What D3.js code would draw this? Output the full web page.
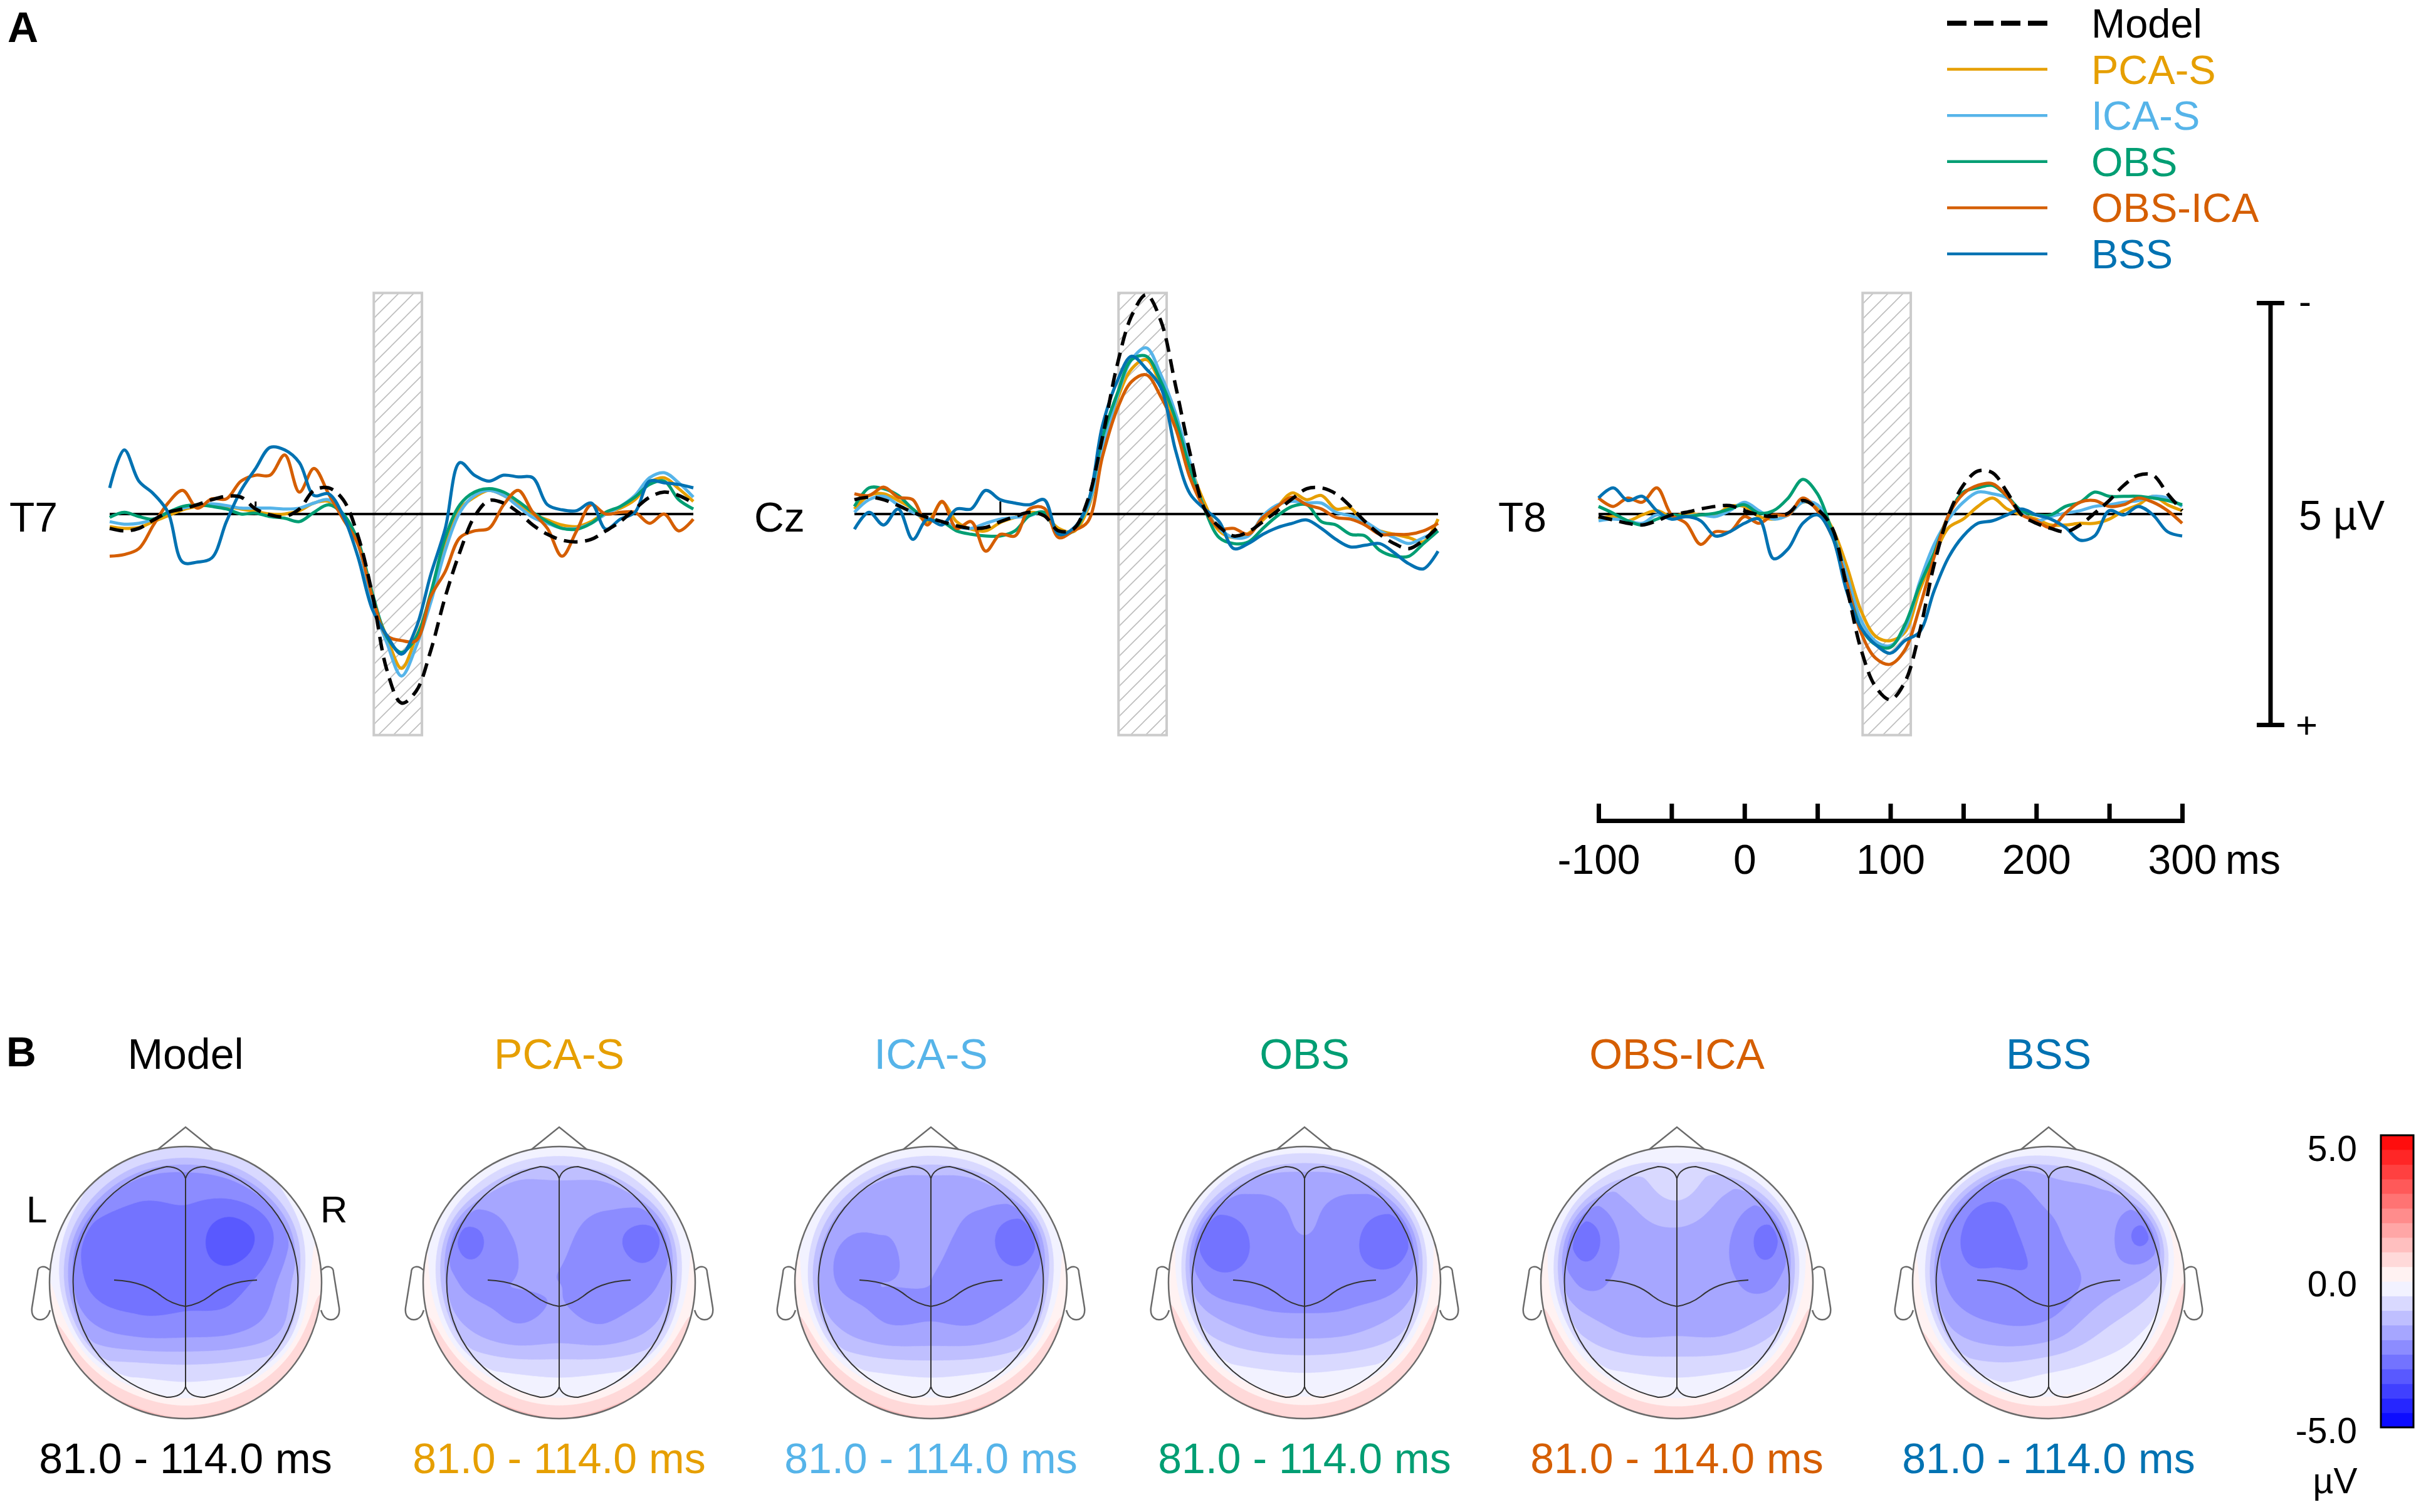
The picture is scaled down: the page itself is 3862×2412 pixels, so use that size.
<!DOCTYPE html>
<html><head><meta charset="utf-8">
<script src="https://cdn.jsdelivr.net/npm/d3@7"></script>
<style>
body{margin:0;background:#fff}
svg{display:block}
text{font-family:"Liberation Sans",Arial,Helvetica,sans-serif}
</style>
</head><body>
<svg id="chart" width="3862" height="2412"></svg>
<script>
// ---------------- DATA ----------------
const times = [-100,-90,-80,-70,-60,-50,-40,-30,-20,-10,0,10,20,30,40,50,60,70,80,90,100,110,120,130,140,150,160,170,180,190,200,210,220,230,240,250,260,270,280,290,300];
const seriesNames = ["Model","PCA-S","ICA-S","OBS","OBS-ICA","BSS"];
const seriesColors = ["#000000","#E69F00","#56B4E9","#009E73","#D55E00","#0072B2"];
const channels = ["T7","Cz","T8"];
const hatchWindow = [81,114];          // ms
const timeTicks = [-100,-50,0,50,100,150,200,250,300];
const timeLabels = [-100,0,100,200,300];
const topoLabel = "81.0 - 114.0 ms";
const colorbarLabels = ["5.0","0.0","-5.0"];

// ERP values (µV, negative up), 10 ms steps from -100 to 300 ms
const T7_model  = [0.17,0.20,0.17,0.07,-0.02,-0.06,-0.11,-0.17,-0.21,-0.20,-0.06,0.01,0.03,-0.06,-0.28,-0.31,-0.17,0.25,0.95,1.85,2.24,2.10,1.62,0.98,0.45,0.03,-0.16,-0.13,-0.02,0.13,0.24,0.31,0.33,0.30,0.20,0.09,-0.06,-0.20,-0.26,-0.22,-0.13];
const T7_pcaS   = [0.15,0.17,0.16,0.09,0.02,-0.05,-0.09,-0.11,-0.09,-0.06,-0.03,0,0,-0.04,-0.13,-0.15,0.02,0.35,1.02,1.46,1.83,1.46,1.02,0.35,-0.06,-0.20,-0.28,-0.22,-0.11,0,0.07,0.13,0.15,0.09,-0.02,-0.07,-0.17,-0.37,-0.43,-0.30,-0.15];
const T7_icaS   = [0.09,0.12,0.11,0.06,-0.02,-0.07,-0.10,-0.12,-0.10,-0.07,-0.07,-0.07,-0.06,-0.07,-0.13,-0.17,0,0.35,1.05,1.53,1.92,1.57,1.05,0.43,-0.02,-0.22,-0.28,-0.22,-0.09,0.04,0.11,0.17,0.17,0.11,0,-0.09,-0.22,-0.43,-0.49,-0.37,-0.20];
const T7_obs    = [0.04,-0.02,0.03,0.06,-0.02,-0.09,-0.11,-0.09,-0.06,0,-0.01,0.03,0.05,0.09,-0.02,-0.11,0,0.31,0.94,1.46,1.64,1.46,0.94,0.28,-0.11,-0.26,-0.30,-0.26,-0.15,-0.02,0.09,0.17,0.18,0.11,-0.02,-0.09,-0.20,-0.35,-0.39,-0.17,-0.06];
const T7_obsIca = [0.50,0.48,0.41,0.13,-0.13,-0.28,-0.07,-0.18,-0.18,-0.39,-0.46,-0.46,-0.70,-0.26,-0.54,-0.24,0.06,0.35,0.98,1.44,1.50,1.50,0.98,0.68,0.28,0.20,0.17,-0.11,-0.28,-0.02,0.17,0.50,0.20,-0.11,0,-0.02,-0.02,0.11,0,0.20,0.06];
const T7_bss    = [-0.31,-0.76,-0.39,-0.24,-0.02,0.57,0.57,0.52,0.09,-0.28,-0.54,-0.79,-0.76,-0.61,-0.22,-0.24,0.02,0.50,1.13,1.44,1.66,1.35,0.72,0.17,-0.61,-0.46,-0.39,-0.46,-0.44,-0.43,-0.11,-0.05,-0.04,-0.13,0.18,0.06,-0.02,-0.39,-0.37,-0.35,-0.31];

const Cz_model  = [-0.17,-0.20,-0.17,-0.10,-0.02,0.04,0.09,0.14,0.17,0.16,0.09,0.03,-0.02,0.02,0.20,0.18,-0.17,-0.91,-1.76,-2.35,-2.60,-2.29,-1.53,-0.72,-0.06,0.15,0.26,0.21,0.09,-0.04,-0.18,-0.30,-0.31,-0.24,-0.09,0.09,0.24,0.35,0.41,0.31,0.15];
const Cz_pcaS   = [-0.06,-0.22,-0.24,-0.16,-0.06,0.09,-0.14,0.09,0.18,0.20,0.10,0.04,-0.02,0.02,0.17,0.21,-0.06,-0.76,-1.35,-1.72,-1.83,-1.53,-1.09,-0.57,-0.13,0.20,0.28,0.23,0.07,-0.09,-0.25,-0.17,-0.22,-0.06,-0.07,0.13,0.20,0.24,0.28,0.33,0.06];
const Cz_icaS   = [-0.02,-0.17,-0.21,-0.11,-0.02,0.06,0.09,0.15,0.17,0.11,0.06,0.04,0.02,-0.02,0.24,0.18,-0.09,-0.76,-1.39,-1.83,-1.97,-1.65,-1.20,-0.61,-0.06,0.17,0.28,0.26,0.02,-0.11,-0.15,-0.13,-0.13,-0.02,0.02,0.09,0.20,0.28,0.35,0.28,0.20];
const Cz_obs    = [-0.09,-0.31,-0.30,-0.22,-0.06,0.06,0.09,0.20,0.24,0.26,0.26,0.20,0.02,-0.02,0.24,0.20,-0.13,-0.91,-1.42,-1.83,-1.87,-1.57,-1.13,-0.54,-0.06,0.28,0.35,0.33,0.17,0.02,-0.09,-0.11,0.09,0.13,0.24,0.26,0.43,0.50,0.50,0.35,0.20];
const Cz_obsIca = [-0.24,-0.22,-0.32,-0.20,-0.17,0.13,-0.15,0.17,0.09,0.44,0.24,0.26,-0.06,-0.07,0.28,0.20,0.09,-0.68,-1.24,-1.57,-1.65,-1.39,-1.02,-0.43,-0.06,0.17,0.17,0.24,0.04,-0.09,-0.20,-0.11,-0.06,0.04,0.06,0.13,0.24,0.24,0.24,0.20,0.11];
const Cz_bss    = [0.18,-0.02,0.13,-0.06,0.30,0.06,0.13,-0.06,-0.06,-0.28,-0.17,-0.13,-0.11,-0.17,0.24,0.17,-0.13,-1.05,-1.57,-1.87,-1.72,-1.50,-0.76,-0.24,-0.06,0.09,0.41,0.35,0.24,0.16,0.11,0.07,0.17,0.30,0.39,0.37,0.35,0.46,0.59,0.65,0.44];

const T8_model  = [0.03,0.07,0.11,0.13,0.08,0.01,-0.02,-0.06,-0.09,-0.10,-0.04,0.01,0.03,-0.01,-0.16,-0.06,0.16,0.86,1.61,2.05,2.20,1.99,1.40,0.60,0.01,-0.34,-0.51,-0.49,-0.26,0.01,0.11,0.17,0.21,0.13,-0.01,-0.16,-0.34,-0.46,-0.46,-0.24,-0.04];
const T8_pcaS   = [0.06,0.03,0.08,0.01,-0.04,0.03,-0.01,0.01,0.01,-0.09,-0.09,0.03,0.06,0.01,-0.14,-0.09,0.16,0.61,1.15,1.45,1.50,1.40,0.91,0.50,0.16,0.06,-0.09,-0.19,-0.06,0.01,0.06,0.13,0.13,0.11,0.11,0.06,-0.04,-0.11,-0.21,-0.11,-0.04];
const T8_icaS   = [0.08,0.06,0.08,0.11,0.01,0.06,0.03,0.01,0.03,-0.04,-0.14,-0.04,0.06,0.01,-0.14,-0.11,0.21,0.71,1.26,1.51,1.56,1.36,0.81,0.36,0.06,-0.14,-0.26,-0.24,-0.19,-0.01,0.08,0.03,-0.01,-0.04,-0.09,-0.11,-0.14,-0.16,-0.21,-0.19,-0.09];
const T8_obs    = [-0.09,-0.01,0.08,0.13,0.06,0.01,0.03,0.01,-0.01,-0.06,-0.11,-0.01,-0.04,-0.19,-0.41,-0.24,0.21,0.81,1.35,1.55,1.58,1.31,0.85,0.46,0.01,-0.26,-0.31,-0.34,-0.21,-0.04,0.01,0.01,-0.09,-0.14,-0.26,-0.21,-0.21,-0.21,-0.19,-0.16,-0.11];
const T8_obsIca = [-0.19,-0.09,-0.19,-0.14,-0.31,0.01,0.11,0.36,0.21,0.21,0.03,0.11,0.01,0.01,-0.19,-0.04,0.26,0.81,1.41,1.71,1.78,1.61,1.11,0.51,0.01,-0.24,-0.34,-0.36,-0.21,0.01,0.08,0.16,-0.01,-0.14,-0.16,-0.09,-0.11,-0.19,-0.14,-0.04,0.11];
const T8_bss    = [-0.19,-0.31,-0.16,-0.21,-0.04,0.06,0.03,0.08,0.26,0.21,0.11,0.06,0.53,0.41,0.11,0.01,0.26,0.91,1.35,1.55,1.65,1.50,1.40,0.91,0.51,0.26,0.11,0.08,0.01,-0.06,0.01,0.06,0.16,0.31,0.26,-0.04,0.01,-0.09,0.01,0.21,0.26];

// Topographic maps: 7x7 grid of scalp values (µV), rows front->back, columns left->right
const MAP_model = [
 [-0.8,-1.2,-1.4,-1.4,-1.4,-1.2,-0.6],
 [-1.2,-1.9,-2.3,-2.3,-2.2,-1.7,-0.8],
 [-1.6,-2.6,-2.8,-2.7,-3.3,-2.3,-0.6],
 [-1.2,-2.6,-2.8,-2.7,-2.7,-1.9, 0.0],
 [-0.5,-1.8,-2.2,-2.2,-2.1,-1.5, 0.0],
 [ 0.2,-0.4,-0.5,-0.6,-0.5,-0.3, 0.3],
 [ 0.5, 0.3, 0.2, 0.1, 0.2, 0.3, 0.6]];
const MAP_pcaS = [
 [-0.4,-0.7,-0.8,-0.8,-0.8,-0.7,-0.4],
 [-0.7,-1.3,-1.6,-1.6,-1.6,-1.3,-0.7],
 [-1.0,-2.6,-2.0,-1.9,-2.3,-2.6,-0.8],
 [-0.8,-2.1,-2.0,-2.0,-2.1,-2.1,-0.5],
 [-0.3,-1.4,-1.9,-1.8,-1.9,-1.4,-0.2],
 [ 0.2,-0.2,-0.4,-0.5,-0.4,-0.2, 0.2],
 [ 0.4, 0.2, 0.1, 0.1, 0.1, 0.2, 0.4]];
const MAP_icaS = [
 [-0.4,-0.7,-0.8,-0.8,-0.8,-0.7,-0.4],
 [-0.7,-1.4,-1.7,-1.7,-1.7,-1.4,-0.7],
 [-1.0,-1.9,-2.0,-1.9,-2.2,-2.8,-0.8],
 [-0.8,-2.0,-2.0,-2.0,-2.1,-2.1,-0.5],
 [-0.3,-1.4,-1.9,-1.9,-1.9,-1.4,-0.2],
 [ 0.2,-0.2,-0.4,-0.5,-0.4,-0.2, 0.2],
 [ 0.4, 0.2, 0.1, 0.1, 0.1, 0.2, 0.4]];
const MAP_obs = [
 [-0.5,-0.8,-0.9,-0.9,-0.9,-0.8,-0.5],
 [-0.9,-1.7,-1.9,-1.8,-1.9,-1.7,-0.9],
 [-1.2,-2.8,-2.4,-2.0,-2.4,-2.8,-0.9],
 [-0.7,-2.2,-2.3,-2.3,-2.3,-2.1,-0.5],
 [ 0.0,-1.1,-1.6,-1.7,-1.6,-1.1, 0.0],
 [ 0.3,-0.1,-0.3,-0.4,-0.3,-0.1, 0.3],
 [ 0.5, 0.3, 0.1, 0.1, 0.1, 0.3, 0.5]];
const MAP_obsIca = [
 [-0.4,-0.7,-0.6,-0.5,-0.6,-0.7,-0.4],
 [-0.8,-1.6,-1.3,-0.8,-1.4,-1.6,-0.8],
 [-1.2,-2.7,-1.8,-1.6,-1.9,-2.6,-0.9],
 [-0.8,-2.1,-1.8,-1.8,-1.9,-2.1,-0.5],
 [ 0.0,-1.1,-1.6,-1.6,-1.6,-1.1, 0.0],
 [ 0.3,-0.2,-0.4,-0.5,-0.4,-0.2, 0.3],
 [ 0.5, 0.3, 0.1, 0.1, 0.1, 0.3, 0.5]];
const MAP_bss = [
 [-0.4,-0.7,-0.9,-0.8,-0.6,-0.5,-0.3],
 [-1.0,-2.0,-2.3,-1.7,-1.5,-1.3,-0.6],
 [-1.1,-2.4,-2.6,-2.2,-1.6,-2.6,-0.7],
 [-0.8,-2.2,-2.4,-2.4,-1.8,-1.4,-0.2],
 [-0.2,-1.5,-1.9,-1.8,-1.1,-0.5, 0.3],
 [ 0.3,-0.4,-0.6,-0.4,-0.2, 0.0, 0.5],
 [ 0.5, 0.2, 0.1, 0.1, 0.2, 0.4, 0.7]];
// Values on the scalp rim, 12 points clockwise from the nose (30° apart)
const RIM_model  = [-0.6,-0.6,-0.3, 0.4, 0.9, 1.0, 1.0, 1.0, 0.8, 0.0,-0.4,-0.6];
const RIM_pcaS   = [-0.3,-0.3,-0.2, 0.2, 0.8, 1.0, 1.0, 1.0, 0.8, 0.2,-0.2,-0.3];
const RIM_icaS   = [-0.3,-0.3,-0.2, 0.2, 0.8, 1.0, 1.0, 1.0, 0.8, 0.2,-0.2,-0.3];
const RIM_obs    = [-0.4,-0.4,-0.2, 0.3, 0.9, 1.0, 1.0, 1.0, 0.9, 0.3,-0.2,-0.4];
const RIM_obsIca = [-0.3,-0.3,-0.2, 0.3, 0.8, 0.9, 0.9, 0.9, 0.8, 0.3,-0.2,-0.3];
const RIM_bss    = [-0.3,-0.1, 0.0, 0.5, 1.0, 1.0, 0.9, 0.8, 0.6, 0.2,-0.3,-0.4];

// ---------------- LAYOUT ----------------
const channelSeries = {
  T7:[T7_model,T7_pcaS,T7_icaS,T7_obs,T7_obsIca,T7_bss],
  Cz:[Cz_model,Cz_pcaS,Cz_icaS,Cz_obs,Cz_obsIca,Cz_bss],
  T8:[T8_model,T8_pcaS,T8_icaS,T8_obs,T8_obsIca,T8_bss]
};
const maps = [MAP_model,MAP_pcaS,MAP_icaS,MAP_obs,MAP_obsIca,MAP_bss];
const rims = [RIM_model,RIM_pcaS,RIM_icaS,RIM_obs,RIM_obsIca,RIM_bss];
const panelX = [175,1363,2550], panelW = 931;
const FONT = 66;

const svg = d3.select("#chart");
svg.append("rect").attr("width",3862).attr("height",2412).attr("fill","#fff");
const defs = svg.append("defs");
const pat = defs.append("pattern").attr("id","hatch").attr("patternUnits","userSpaceOnUse").attr("width",24).attr("height",24);
pat.append("rect").attr("width",24).attr("height",24).attr("fill","#fff");
pat.append("path").attr("d","M-6,6 L6,-6 M0,24 L24,0 M18,30 L30,18").attr("stroke","#bdbdbd").attr("stroke-width",1.6);

const yS = d3.scaleLinear().domain([-2.5,2.5]).range([483.5,1156.5]);

// Panel labels
svg.append("text").attr("x",12).attr("y",67).attr("font-size",68).attr("font-weight","bold").text("A");
svg.append("text").attr("x",10).attr("y",1701).attr("font-size",66).attr("font-weight","bold").text("B");

// ERP panels
const drawOrder = [1,2,3,4,5,0];
channels.forEach((ch,ci)=>{
  const x = d3.scaleLinear().domain([-100,300]).range([panelX[ci],panelX[ci]+panelW]);
  const g = svg.append("g");
  g.append("rect")
    .attr("x",x(hatchWindow[0])).attr("width",x(hatchWindow[1])-x(hatchWindow[0]))
    .attr("y",yS(-2.62)).attr("height",yS(2.62)-yS(-2.62))
    .attr("fill","url(#hatch)").attr("stroke","#cbcbcb").attr("stroke-width",4);
  g.append("line").attr("x1",x(-100)).attr("x2",x(300)).attr("y1",yS(0)).attr("y2",yS(0))
    .attr("stroke","#000").attr("stroke-width",4);
  g.append("line").attr("x1",x(0)).attr("x2",x(0)).attr("y1",yS(0)).attr("y2",yS(0)-20)
    .attr("stroke","#000").attr("stroke-width",3);
  const line = d3.line().x((d,i)=>x(times[i])).y(d=>yS(d)).curve(d3.curveCatmullRom.alpha(0.5));
  drawOrder.forEach(si=>{
    g.append("path").attr("d",line(channelSeries[ch][si]))
      .attr("fill","none").attr("stroke",seriesColors[si])
      .attr("stroke-width",si===0?5.5:5)
      .attr("stroke-dasharray",si===0?"22,12":null)
      .attr("stroke-linejoin","round");
  });
  g.append("text").attr("x",panelX[ci]-160).attr("y",848).attr("font-size",FONT).text(ch);
});

// time axis
{
  const x = d3.scaleLinear().domain([-100,300]).range([panelX[2],panelX[2]+panelW]);
  const ga = svg.append("g").attr("transform","translate(0,1309)");
  ga.call(d3.axisTop(x).tickValues(timeTicks).tickSize(27).tickSizeOuter(0).tickFormat(""));
  ga.selectAll("path,line").attr("stroke","#000").attr("stroke-width",7);
  ga.select(".domain").attr("stroke-linecap","square");
  const gl = svg.append("g").attr("transform","translate(0,1309)");
  gl.call(d3.axisBottom(x).tickValues(timeLabels).tickSize(0).tickPadding(38).tickFormat(d=>String(d)));
  gl.select(".domain").remove();
  gl.selectAll("text").attr("font-size",FONT).attr("font-family",'"Liberation Sans",Arial,sans-serif').attr("fill","#000");
  svg.append("text").attr("x",3550).attr("y",1394).attr("font-size",FONT).text("ms");
}

// amplitude scale bar
{
  const sx = 3622;
  const gs = svg.append("g").attr("stroke","#000").attr("stroke-width",7);
  gs.append("line").attr("x1",sx).attr("x2",sx).attr("y1",yS(-2.5)).attr("y2",yS(2.5));
  gs.append("line").attr("x1",sx-22).attr("x2",sx+22).attr("y1",yS(-2.5)).attr("y2",yS(-2.5));
  gs.append("line").attr("x1",sx-22).attr("x2",sx+22).attr("y1",yS(2.5)).attr("y2",yS(2.5));
  svg.append("text").attr("x",3667).attr("y",yS(-2.5)+17).attr("font-size",60).text("-");
  svg.append("text").attr("x",3662).attr("y",yS(2.5)+20).attr("font-size",60).text("+");
  svg.append("text").attr("x",3667).attr("y",845).attr("font-size",FONT).text("5 µV");
}

// legend
seriesNames.forEach((nm,i)=>{
  const y = 37 + i*73.6;
  svg.append("line").attr("x1",3106).attr("x2",3266).attr("y1",y).attr("y2",y)
    .attr("stroke",seriesColors[i]).attr("stroke-width",i===0?8:4.5)
    .attr("stroke-dasharray",i===0?"31,12":null);
  svg.append("text").attr("x",3336).attr("y",y+23).attr("font-size",65).attr("fill",seriesColors[i]).text(nm);
});

// ---------------- TOPOMAPS ----------------
function bandColor(v){
  return v<0 ? d3.interpolateRgb("#ffffff","#0000ff")(Math.min(1,-v/5))
             : d3.interpolateRgb("#ffffff","#ff0000")(Math.min(1,v/5));
}
function cr(p0,p1,p2,p3,t){
  return 0.5*(2*p1 + (-p0+p2)*t + (2*p0-5*p1+4*p2-p3)*t*t + (-p0+3*p1-3*p2+p3)*t*t*t);
}
function sampleGrid(G,x,y){
  const n=G.length, sp=2.1/(n-1);
  const u=(x+1.05)/sp, v=(y+1.05)/sp;
  const i=Math.max(0,Math.min(n-2,Math.floor(u))), j=Math.max(0,Math.min(n-2,Math.floor(v)));
  const fu=u-i, fv=v-j;
  const at=(r,c)=>G[Math.max(0,Math.min(n-1,r))][Math.max(0,Math.min(n-1,c))];
  const rows=[];
  for(let k=-1;k<=2;k++) rows.push(cr(at(j+k,i-1),at(j+k,i),at(j+k,i+1),at(j+k,i+2),fu));
  return cr(rows[0],rows[1],rows[2],rows[3],fv);
}
function sampleRim(Rm,x,y){
  let a=Math.atan2(x,-y)*180/Math.PI; if(a<0)a+=360;   // clockwise from nose
  const n=Rm.length, s=a/(360/n), k=Math.floor(s)%n, f=s-Math.floor(s);
  return cr(Rm[(k-1+n)%n],Rm[k],Rm[(k+1)%n],Rm[(k+2)%n],f);
}
const topoX=[296,892,1485,2081,2675,3268], topoY=2046, R=217;
const levels = d3.range(-5,5,0.5);
const N=210;
maps.forEach((G,mi)=>{
  const cx=topoX[mi], cy=topoY;
  const vals=new Array(N*N);
  for(let j=0;j<N;j++) for(let i=0;i<N;i++){
    const gx=-1.05+(i+0.5)*2.1/N, gy=-1.05+(j+0.5)*2.1/N;
    const r=Math.hypot(gx,gy);
    let v=sampleGrid(G,gx,gy);
    const w=Math.max(0,Math.min(1,(r-0.80)/0.2));
    const ws=w*w*(3-2*w);
    v=(1-ws)*v+ws*sampleRim(rims[mi],gx,gy);
    vals[j*N+i]=v;
  }
  const conts=d3.contours().size([N,N]).thresholds(levels)(vals);
  const clipId="clip"+mi;
  defs.append("clipPath").attr("id",clipId).append("circle").attr("cx",cx).attr("cy",cy).attr("r",R);
  const gm=svg.append("g").attr("clip-path",`url(#${clipId})`);
  const gi=gm.append("g").attr("transform",`translate(${cx-1.05*R},${cy-1.05*R}) scale(${2.1*R/N})`);
  const path=d3.geoPath();
  gi.selectAll("path").data(conts).join("path").attr("d",path)
    .attr("fill",d=>bandColor(d.value+0.25)).attr("stroke",d=>bandColor(d.value+0.25)).attr("stroke-width",0.3);
  // outlines
  const go=svg.append("g").attr("transform",`translate(${cx},${cy})`).attr("fill","none");
  go.append("circle").attr("r",R).attr("stroke","#6a6a6a").attr("stroke-width",2.5);
  go.append("path").attr("d","M-44,-212.5 L0,-248 L44,-212.5").attr("stroke","#6a6a6a").attr("stroke-width",2.5);
  const ear="M-217,-20 C-224,-28 -236,-27 -236,-16 L-245,40 C-247,56 -236,62 -226,58 C-220,55 -218,50 -216,44";
  go.append("path").attr("d",ear).attr("stroke","#6a6a6a").attr("stroke-width",2.5);
  go.append("path").attr("d",ear).attr("transform","scale(-1,1)").attr("stroke","#6a6a6a").attr("stroke-width",2.5);
  const gb=go.append("g").attr("stroke","#333").attr("stroke-width",2);
  gb.append("path").attr("d","M0,-166 Q-5,-184 -30,-185 A188,188 0 0 0 -30,183 Q-5,183 0,166");
  gb.append("path").attr("d","M0,-166 Q5,-184 30,-185 A188,188 0 0 1 30,183 Q5,183 0,166");
  gb.append("path").attr("d","M0,-166 L0,166");
  gb.append("path").attr("d","M-114,-4 C-75,-2 -55,8 -38,22 C-25,32 -12,36 0,38 C12,36 25,32 38,22 C55,8 75,-2 114,-4");
  // labels
  const col = seriesColors[mi];
  svg.append("text").attr("x",cx).attr("y",1705).attr("text-anchor","middle").attr("font-size",68).attr("fill",col).text(seriesNames[mi]);
  svg.append("text").attr("x",cx).attr("y",2350).attr("text-anchor","middle").attr("font-size",68).attr("fill",col).text(topoLabel);
});
svg.append("text").attr("x",42).attr("y",1950).attr("font-size",60).text("L");
svg.append("text").attr("x",511).attr("y",1950).attr("font-size",60).text("R");

// colorbar
{
  const cy = d3.scaleLinear().domain([-5,5]).range([2277,1811]);
  const gc=svg.append("g");
  gc.selectAll("rect").data(levels).join("rect")
    .attr("x",3798).attr("width",52)
    .attr("y",d=>cy(d+0.5)).attr("height",d=>cy(d)-cy(d+0.5)+0.5)
    .attr("fill",d=>bandColor(d+0.25));
  gc.append("rect").attr("x",3798).attr("y",1811).attr("width",52).attr("height",466)
    .attr("fill","none").attr("stroke","#000").attr("stroke-width",3);
  const ly=[1852,2068,2302];
  colorbarLabels.forEach((t,i)=>svg.append("text").attr("x",3760).attr("y",ly[i]).attr("text-anchor","end").attr("font-size",57).text(t));
  svg.append("text").attr("x",3725).attr("y",2382).attr("text-anchor","middle").attr("font-size",57).text("µV");
}
</script>
</body></html>
